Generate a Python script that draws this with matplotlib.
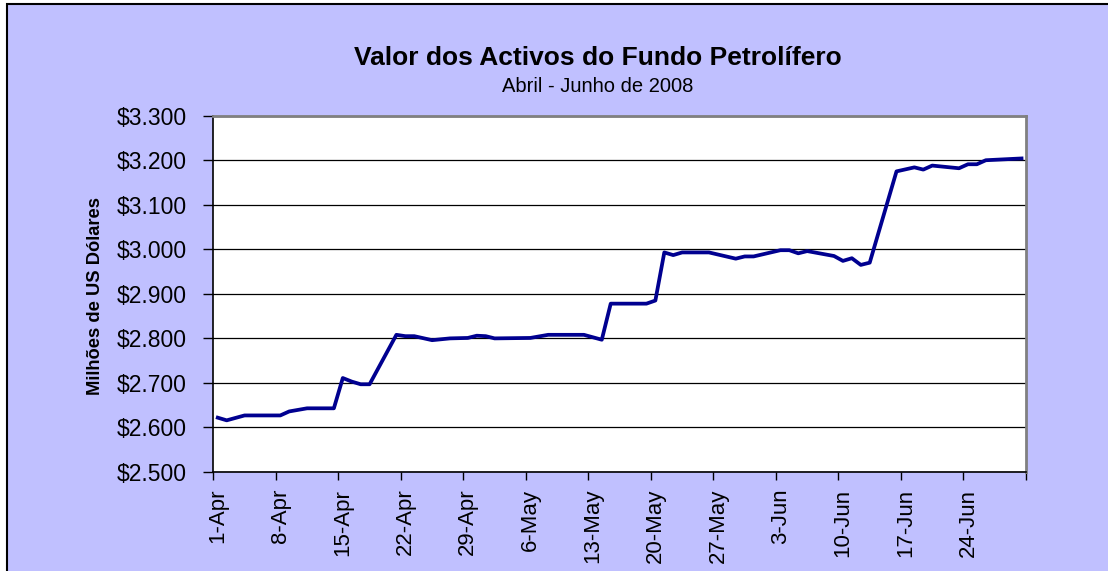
"""
Valor dos Activos do Fundo Petrolifero, Abril - Junho 2008
"""
import numpy as np
import pandas as pd
import matplotlib
matplotlib.use('Agg')
from matplotlib import pyplot as plt
from matplotlib.patches import Rectangle
import matplotlib.dates as mdates
from matplotlib.ticker import FuncFormatter, FixedLocator

plt.rcParams['font.family'] = ['Liberation Sans', 'DejaVu Sans']

# data (millions of US dollars)
dates = ['2008-04-01', '2008-04-02', '2008-04-04', '2008-04-08', '2008-04-09',
         '2008-04-11', '2008-04-14', '2008-04-15', '2008-04-16', '2008-04-17',
         '2008-04-18', '2008-04-21', '2008-04-22', '2008-04-23', '2008-04-25',
         '2008-04-27', '2008-04-29', '2008-04-30', '2008-05-01', '2008-05-02',
         '2008-05-06', '2008-05-08', '2008-05-12', '2008-05-14', '2008-05-15',
         '2008-05-19', '2008-05-20', '2008-05-21', '2008-05-22', '2008-05-23',
         '2008-05-26', '2008-05-29', '2008-05-30', '2008-05-31', '2008-06-03',
         '2008-06-04', '2008-06-05', '2008-06-06', '2008-06-09', '2008-06-10',
         '2008-06-11', '2008-06-12', '2008-06-13', '2008-06-16', '2008-06-18',
         '2008-06-19', '2008-06-20', '2008-06-23', '2008-06-24', '2008-06-25',
         '2008-06-26', '2008-06-30']
values = [2622, 2616, 2627, 2627, 2636,
          2643, 2643, 2711, 2703, 2697,
          2697, 2808, 2805, 2805, 2796,
          2800, 2801, 2806, 2805, 2800,
          2801, 2808, 2808, 2797, 2878,
          2878, 2885, 2993, 2987, 2993,
          2993, 2979, 2984, 2984, 2998,
          2998, 2991, 2996, 2985, 2974,
          2980, 2965, 2970, 3175, 3184,
          3179, 3188, 3182, 3191, 3191,
          3200, 3204]

first_day = '2008-04-01'
last_day = '2008-06-30'

title = 'Valor dos Activos do Fundo Petrolífero'
subtitle = 'Abril - Junho de 2008'
ylabel = 'Milhões de US Dólares'

bg = '#C0C0FF'
line_color = '#000090'

W, H = 1108, 571
fig = plt.figure(figsize=(W / 100, H / 100), dpi=100)
fig.patch.set_facecolor('white')
# chart area frame, kept behind the axes
frame = Rectangle((7 / W, -0.1), 1.2, 1 - 4 / H + 0.1,
                  transform=fig.transFigure, facecolor=bg,
                  edgecolor='black', linewidth=1.5, zorder=-10)
fig.add_artist(frame)

ax = fig.add_axes([213.3 / W, 1 - 472 / H, (1026 - 213.3) / W, (472 - 115.7) / H])
ax.set_facecolor('white')

x = mdates.date2num(pd.to_datetime(dates))
d0 = mdates.date2num(pd.Timestamp(first_day))
d1 = mdates.date2num(pd.Timestamp(last_day))

ax.plot(x, values, color=line_color, lw=2.7, solid_joinstyle='round', zorder=3)

ax.set_xlim(d0 - 0.5, d1 + 0.5)
ax.set_ylim(2500, 3300)
ax.set_yticks(np.arange(2500, 3301, 100))
ax.yaxis.set_major_formatter(FuncFormatter(lambda v, p: f'${v / 1000:.3f}'))
ax.yaxis.grid(True, color='black', lw=0.9)
ax.set_axisbelow(True)

# labels on each week's day, tick marks on the slot boundaries
label_days = np.arange(d0, d1 + 1, 7)
ax.xaxis.set_major_locator(FixedLocator(label_days))
ax.set_xticklabels([mdates.num2date(d).strftime('%d-%b').lstrip('0') for d in label_days],
                   rotation=90, fontsize=16)
ax.xaxis.set_minor_locator(FixedLocator(np.append(label_days - 0.5, d1 + 0.5)))
ax.tick_params(axis='x', which='major', length=0, pad=12)
ax.tick_params(axis='x', which='minor', length=6, width=1, direction='out')
ax.tick_params(axis='y', length=7, width=1, direction='out', labelsize=16.5, pad=12)

for s in ['left', 'bottom']:
    ax.spines[s].set_color('black')
    ax.spines[s].set_linewidth(1.2)
for s in ['top', 'right']:
    ax.spines[s].set_color('#808080')
    ax.spines[s].set_linewidth(2)

fig.text(598 / W, 1 - 58 / H, title, ha='center', va='center', fontsize=19, fontweight='bold')
fig.text(598 / W, 1 - 87 / H, subtitle, ha='center', va='center', fontsize=14.5)
fig.text(96 / W, 1 - 296 / H, ylabel, ha='center', va='center', rotation=90,
         fontsize=13.2, fontweight='bold')

fig.savefig('out.png', dpi=100, facecolor=fig.get_facecolor())
